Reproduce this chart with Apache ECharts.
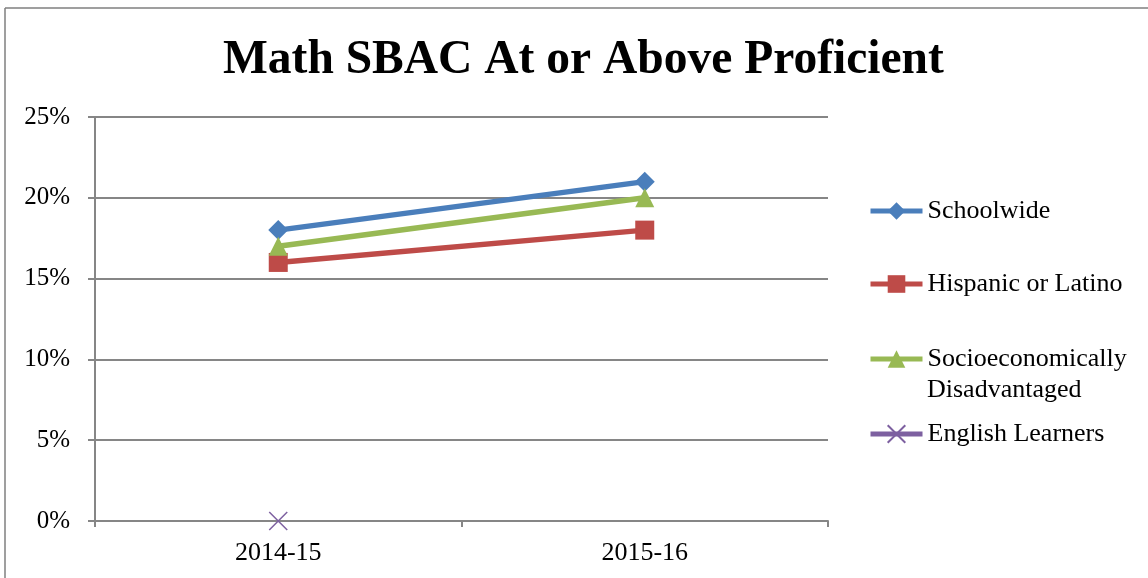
<!DOCTYPE html>
<html><head><meta charset="utf-8">
<script src="https://cdn.jsdelivr.net/npm/echarts@6/dist/echarts.min.js"></script>
<style>html,body{margin:0;padding:0;background:#fff}#c{width:1148px;height:578px}</style>
</head><body><div id="c"></div>
<script>
const titleText = 'Math SBAC At or Above Proficient';
const categories = ['2014-15', '2015-16'];
const yTicks = [0, 5, 10, 15, 20, 25];
const schoolwide = [18, 21];
const hispanic = [16, 18];
const socio = [17, 20];
const englishLearners = [0, null];
const seriesNames = ['Schoolwide', 'Hispanic or Latino', 'Socioeconomically Disadvantaged', 'English Learners'];

const FONT = '"Liberation Serif", "Times New Roman", serif';
const AX = '#868686';
const colors = ['#4A7EBB', '#BE4B48', '#98B954', '#7D60A0'];
const xPath = 'path://M0,0L10,10M10,0L0,10';

const chart = echarts.init(document.getElementById('c'), null, {renderer: 'canvas'});
function legendAt(name, top, fmt) {
  return {
    data: [name], left: 868, top: top, orient: 'vertical', padding: 0,
    itemWidth: 52, itemHeight: 22, itemGap: 5,
    formatter: fmt || '{name}',
    lineStyle: {width: 5},
    textStyle: {fontFamily: FONT, fontSize: 26, color: '#000', lineHeight: 30},
    selectedMode: false
  };
}
chart.setOption({
  animation: false,
  backgroundColor: '#fff',
  title: {
    text: titleText, left: 218, top: 32,
    textStyle: {fontFamily: FONT, fontSize: 47.5, fontWeight: 'bold', color: '#000'}
  },
  legend: [
    legendAt(seriesNames[0], 196),
    legendAt(seriesNames[1], 269),
    legendAt(seriesNames[2], 344, 'Socioeconomically'),
    legendAt(seriesNames[3], 419)
  ],
  grid: {left: 95, right: 320, top: 117, bottom: 57, containLabel: false},
  xAxis: {
    type: 'category', data: categories, boundaryGap: true,
    axisLine: {lineStyle: {color: AX, width: 2}},
    axisTick: {show: true, length: 6, lineStyle: {color: AX, width: 2}},
    axisLabel: {fontFamily: FONT, fontSize: 26, color: '#000', margin: 19}
  },
  yAxis: {
    type: 'value', min: 0, max: 25, interval: 5,
    axisLine: {show: true, lineStyle: {color: AX, width: 2}},
    axisTick: {show: true, length: 7, lineStyle: {color: AX, width: 2}},
    splitLine: {lineStyle: {color: AX, width: 2}},
    axisLabel: {fontFamily: FONT, fontSize: 25, color: '#000', margin: 25,
      formatter: v => yTicks.includes(v) ? v + '%' : ''}
  },
  series: [
    {name: seriesNames[0], type: 'line', data: schoolwide, color: colors[0],
     symbol: 'diamond', symbolSize: 20, lineStyle: {width: 5.5}},
    {name: seriesNames[1], type: 'line', data: hispanic, color: colors[1],
     symbol: 'rect', symbolSize: 19, lineStyle: {width: 5.5}},
    {name: seriesNames[2], type: 'line', data: socio, color: colors[2],
     symbol: 'triangle', symbolSize: 19, lineStyle: {width: 5.5}},
    {name: seriesNames[3], type: 'line', data: englishLearners, color: colors[3],
     symbol: xPath, symbolSize: 18, lineStyle: {width: 5.5},
     itemStyle: {borderColor: colors[3], borderWidth: 1.5}}
  ],
  graphic: [
    {type: 'line', shape: {x1: 5, y1: 8, x2: 1148, y2: 8}, style: {stroke: '#7f7f7f', lineWidth: 1.5}},
    {type: 'line', shape: {x1: 5, y1: 8, x2: 5, y2: 578}, style: {stroke: '#7f7f7f', lineWidth: 1.5}},
    {type: 'text', left: 927, top: 377, style: {text: 'Disadvantaged', font: '26px ' + FONT, fill: '#000'}}
  ]
});
</script></body></html>
